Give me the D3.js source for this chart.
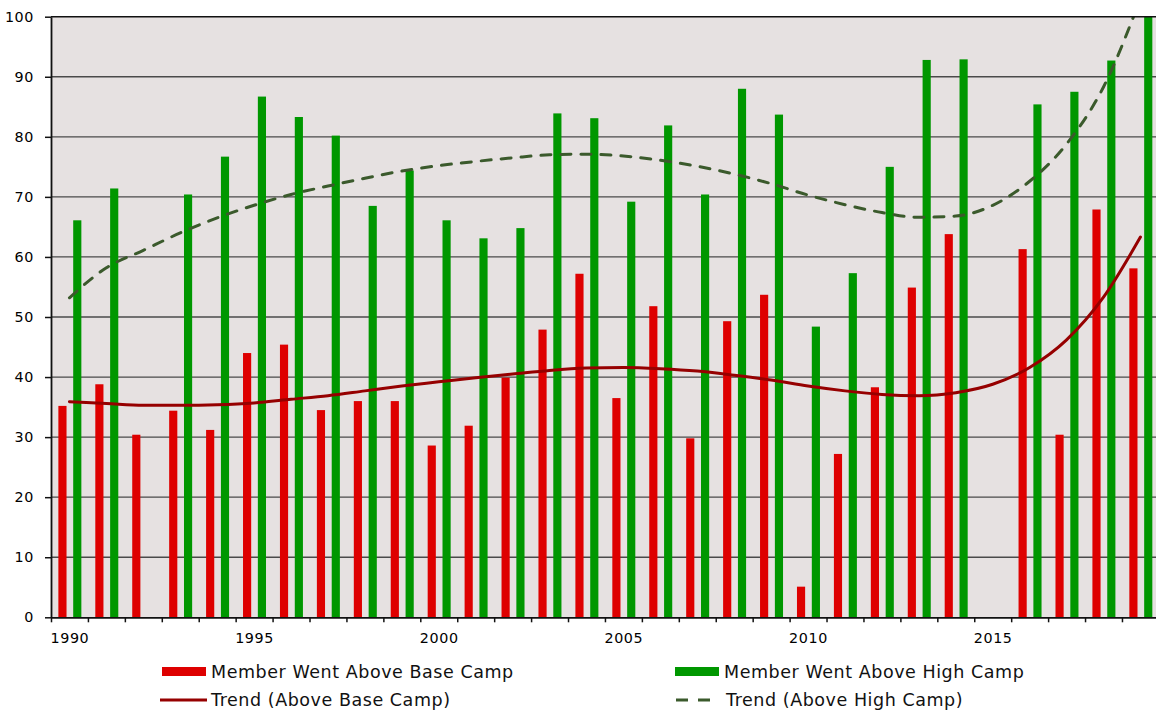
<!DOCTYPE html>
<html>
<head>
<meta charset="utf-8">
<script src="https://cdn.jsdelivr.net/npm/d3@7"></script>
<style>
  html, body { margin: 0; padding: 0; background: #ffffff; }
  svg { display: block; font-family: "DejaVu Sans", Verdana, sans-serif; }
</style>
</head>
<body>
<svg id="chart" width="1156" height="712"></svg>
<script>
// ---------- data ----------
const years = [1990, 1991, 1992, 1993, 1994, 1995, 1996, 1997, 1998, 1999,
               2000, 2001, 2002, 2003, 2004, 2005, 2006, 2007, 2008, 2009,
               2010, 2011, 2012, 2013, 2014, 2015, 2016, 2017, 2018, 2019];

const aboveBaseCamp = [35.2, 38.8, 30.4, 34.4, 31.2, 44.0, 45.4, 34.5, 36.0, 36.0,
                       28.6, 31.9, 39.9, 47.9, 57.2, 36.5, 51.8, 29.8, 49.3, 53.7,
                       5.1, 27.2, 38.3, 54.9, 63.8, null, 61.3, 30.4, 67.9, 58.1];

const aboveHighCamp = [66.1, 71.4, null, 70.4, 76.7, 86.7, 83.3, 80.2, 68.5, 74.4,
                       66.1, 63.1, 64.8, 83.9, 83.1, 69.2, 81.9, 70.4, 88.0, 83.7,
                       48.4, 57.3, 75.0, 92.8, 92.9, null, 85.4, 87.5, 92.7, 100];

const trendBase = [35.9, 35.6, 35.3, 35.3, 35.4, 35.7, 36.3, 36.9, 37.7, 38.5,
                   39.2, 39.9, 40.5, 41.1, 41.5, 41.6, 41.4, 41.0, 40.3, 39.5,
                   38.5, 37.7, 37.1, 36.9, 37.4, 38.8, 41.6, 46.2, 53.3, 63.3];

const trendHigh = [53.2, 58.2, 61.1, 64.0, 66.5, 68.6, 70.4, 71.8, 73.1, 74.3,
                   75.2, 75.9, 76.5, 77.0, 77.1, 76.8, 76.1, 75.1, 73.8, 72.2,
                   70.3, 68.7, 67.4, 66.6, 66.8, 68.6, 72.6, 78.8, 88.3, 103];

const yTicks = [0, 10, 20, 30, 40, 50, 60, 70, 80, 90, 100];
const xLabelYears = [1990, 1995, 2000, 2005, 2010, 2015];

const seriesNames = ["Member Went Above Base Camp", "Member Went Above High Camp"];
const trendNames = ["Trend (Above Base Camp)", "Trend (Above High Camp)"];

// ---------- layout ----------
const svg = d3.select("#chart");
const plotLeft = 51, plotTop = 16.7, plotBottom = 617.3;
const stepW = 36.93;
const plotRight = plotLeft + stepW * years.length;
const visibleRight = 1156;

const xLin = d3.scaleLinear().domain([1990, 2020]).range([plotLeft, plotRight]);
const xBand = d3.scaleBand().domain(years).range([plotLeft, plotRight]).paddingInner(0).paddingOuter(0);
const xSub = d3.scaleBand().domain(["base", "high"]).range([0, xBand.bandwidth()])
               .paddingInner(0.45).paddingOuter(0.47);
const y = d3.scaleLinear().domain([0, 100]).range([plotBottom, plotTop]);

const colors = { base: "#de0000", high: "#009700", trendBase: "#960000", trendHigh: "#3b5a2c" };

// clip
svg.append("defs").append("clipPath").attr("id", "plotclip")
  .append("rect").attr("x", plotLeft).attr("y", plotTop)
  .attr("width", visibleRight - plotLeft).attr("height", plotBottom - plotTop);

// background
svg.append("rect").attr("x", plotLeft).attr("y", plotTop)
  .attr("width", visibleRight - plotLeft).attr("height", plotBottom - plotTop)
  .attr("fill", "#e6e1e1");

// gridlines
svg.append("g").selectAll("line").data(yTicks.filter(d => d > 0 && d < 100)).join("line")
  .attr("x1", plotLeft).attr("x2", visibleRight)
  .attr("y1", d => y(d)).attr("y2", d => y(d))
  .attr("stroke", "#4a4a4a").attr("stroke-width", 1.3);

// bars
const rows = years.map((yr, i) => ({ year: yr, base: aboveBaseCamp[i], high: aboveHighCamp[i] }));
const barG = svg.append("g").attr("clip-path", "url(#plotclip)");
["base", "high"].forEach(key => {
  barG.append("g").selectAll("rect")
    .data(rows.filter(r => r[key] != null)).join("rect")
    .attr("x", r => xBand(r.year) + xSub(key) + 0.4)
    .attr("width", xSub.bandwidth())
    .attr("y", r => y(r[key]))
    .attr("height", r => y(0) - y(r[key]))
    .attr("fill", colors[key]);
});

// trend lines
const line = d3.line()
  .x((d, i) => xBand(years[i]) + xBand.bandwidth() / 2)
  .y(d => y(d))
  .curve(d3.curveMonotoneX);

const trendG = svg.append("g").attr("clip-path", "url(#plotclip)");
trendG.append("path").attr("d", line(trendBase))
  .attr("fill", "none").attr("stroke", colors.trendBase).attr("stroke-width", 3)
  .attr("stroke-linecap", "round");
trendG.append("path").attr("d", line(trendHigh))
  .attr("fill", "none").attr("stroke", colors.trendHigh).attr("stroke-width", 3)
  .attr("stroke-dasharray", "10,10").attr("stroke-linecap", "round");

// top frame
svg.append("line").attr("x1", plotLeft).attr("x2", visibleRight).attr("y1", plotTop).attr("y2", plotTop)
  .attr("stroke", "#111").attr("stroke-width", 1.6);

// y axis
const yAxis = svg.append("g").attr("transform", `translate(${plotLeft},0)`)
  .call(d3.axisLeft(y).tickValues(yTicks).tickSize(6).tickPadding(11).tickSizeOuter(0).tickFormat(d3.format("d")));
yAxis.select(".domain").attr("stroke", "#111").attr("stroke-width", 1.8);
yAxis.selectAll(".tick line").attr("stroke", "#111").attr("stroke-width", 1.5);
yAxis.selectAll(".tick text").attr("font-size", 14.3).attr("letter-spacing", 0.6)
  .attr("fill", "#000").attr("font-family", "DejaVu Sans, Verdana, sans-serif");

// x axis
const xAxis = svg.append("g").attr("transform", `translate(0,${plotBottom})`)
  .call(d3.axisBottom(xLin).tickValues(years).tickSize(5).tickPadding(11).tickSizeOuter(0)
        .tickFormat(d => xLabelYears.includes(d) ? String(d) : ""));
xAxis.select(".domain").attr("stroke", "#111").attr("stroke-width", 1.8)
  .attr("d", `M${plotLeft},0.5H${visibleRight}`);
xAxis.selectAll(".tick line").attr("stroke", "#111").attr("stroke-width", 1.5);
xAxis.selectAll(".tick text").attr("font-size", 14.3).attr("letter-spacing", 0.6)
  .attr("text-anchor", "start").attr("dx", -1)
  .attr("fill", "#000").attr("font-family", "DejaVu Sans, Verdana, sans-serif");

// legend
const legend = svg.append("g").attr("font-size", 17.5).attr("letter-spacing", 0.55).attr("fill", "#111");
const legendItems = [
  { name: seriesNames[0], type: "rect", color: colors.base, x: 162, y: 671.5 },
  { name: seriesNames[1], type: "rect", color: colors.high, x: 675, y: 671.5 },
  { name: trendNames[0], type: "line", color: colors.trendBase, x: 160, y: 700 },
  { name: trendNames[1], type: "dash", color: colors.trendHigh, x: 675, y: 700 }
];
legendItems.forEach(it => {
  const g = legend.append("g");
  if (it.type === "rect") {
    g.append("rect").attr("x", it.x).attr("y", it.y - 4.5).attr("width", 44).attr("height", 9).attr("fill", it.color);
  } else if (it.type === "line") {
    g.append("line").attr("x1", it.x).attr("x2", it.x + 47).attr("y1", it.y).attr("y2", it.y)
      .attr("stroke", it.color).attr("stroke-width", 3);
  } else {
    g.append("line").attr("x1", it.x + 1).attr("x2", it.x + 45).attr("y1", it.y).attr("y2", it.y)
      .attr("stroke", it.color).attr("stroke-width", 3).attr("stroke-dasharray", "12,10");
  }
  g.append("text").attr("x", it.x + (it.type === "rect" ? 49 : 51))
    .attr("y", it.y + 6).text(it.name);
});
</script>
</body>
</html>
